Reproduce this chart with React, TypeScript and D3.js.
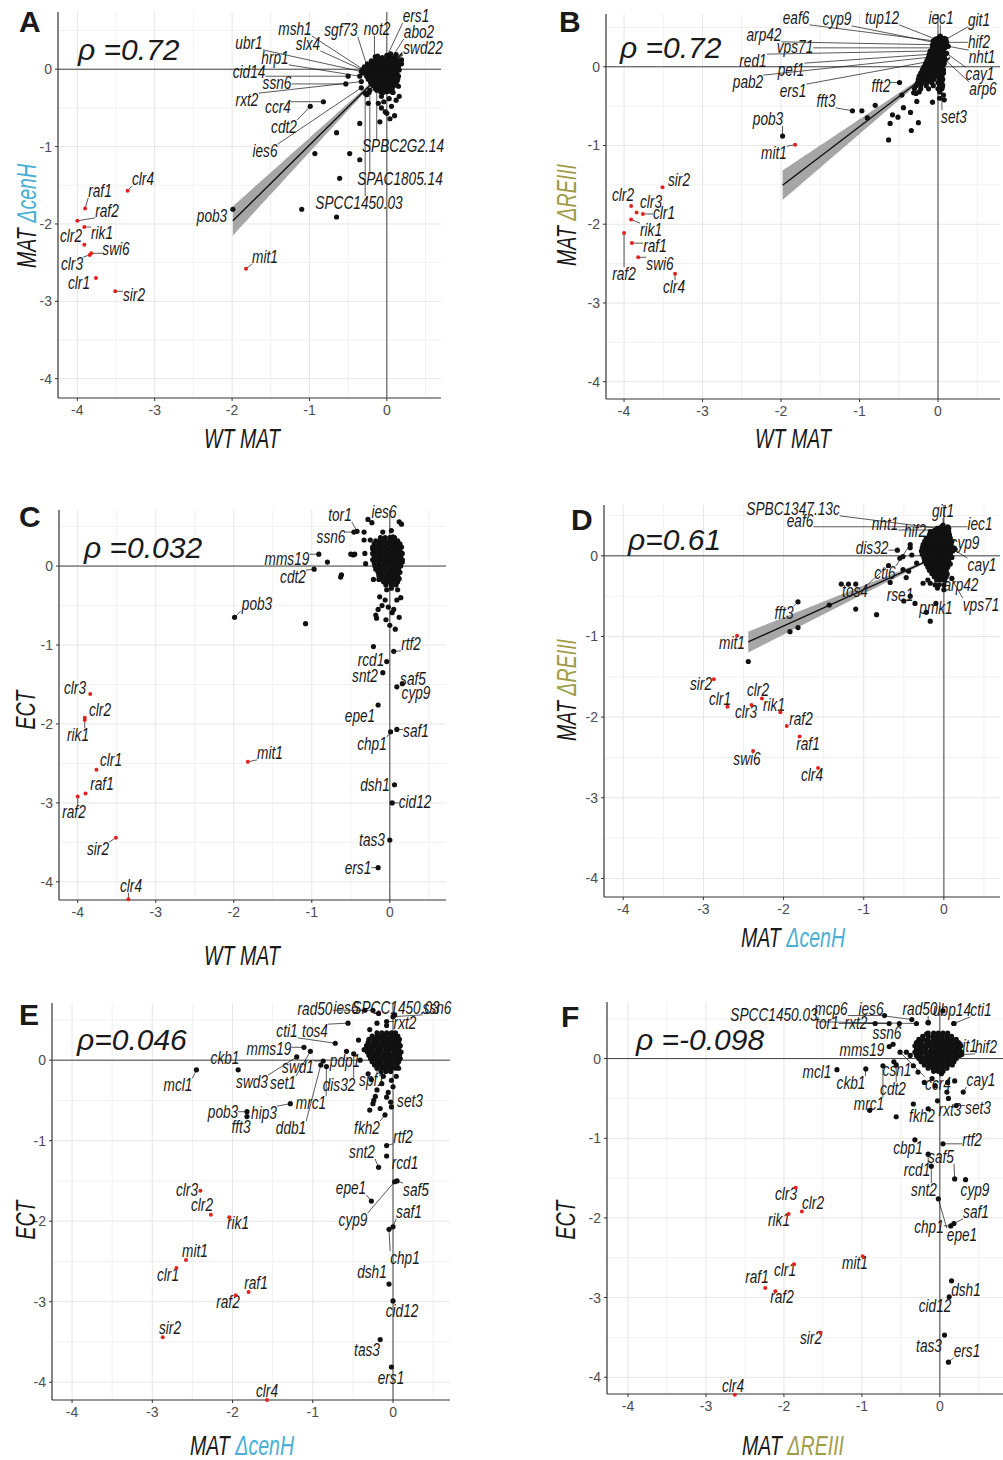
import React, { useEffect, useRef } from "react";
import * as d3 from "d3";

const FONT = "'Liberation Sans', Arial, Helvetica, sans-serif";
const BLUE = "#4aafd3";
const OLIVE = "#a19c48";
const RED = "#e3221f";
const INK = "#1a1a1a";

// ---------- shared heterochromatin genes (red) ----------
const redGenes = ["raf2", "clr2", "rik1", "raf1", "clr3", "swi6", "clr1", "sir2", "clr4", "mit1"];
const wtMAT = [-4.0, -3.91, -3.91, -3.9, -3.84, -3.82, -3.76, -3.51, -3.35, -1.82];
const matCenH = [-1.96, -2.27, -2.04, -1.8, -2.4, -2.38, -2.7, -2.87, -1.57, -2.58];
const matREIII = [-2.11, -1.77, -1.94, -2.24, -1.85, -2.42, -1.87, -1.53, -2.63, -0.99];
const ectVals = [-2.92, -1.92, -1.95, -2.88, -1.62, null, -2.58, -3.44, -4.22, -2.48];

// ---------- Panel A: WT MAT vs MAT ΔcenH ----------
const aGenes = [
  ["msh1", -0.31, 0.0], ["slx4", -0.27, -0.03], ["sgf73", -0.25, 0.02], ["not2", -0.16, 0.02],
  ["ers1", -0.03, 0.1], ["abo2", 0.02, 0.08], ["swd22", 0.06, 0.08], ["ubr1", -0.33, -0.03],
  ["hrp1", -0.35, -0.09], ["cid14", -0.5, -0.09], ["ssn6", -0.53, -0.19], ["rxt2", -0.33, -0.16],
  ["ccr4", -0.82, -0.42], ["cdt2", -0.99, -0.48], ["ies6", -0.33, -0.24], ["SPBC2G2.14", -0.13, -0.27],
  ["SPAC1805.14", -0.22, -0.27], ["SPCC1450.03", -0.28, -0.31], ["pob3", -1.99, -1.81],
];
const aOther = [
  [-1.1, -1.81], [-0.65, -1.91], [-0.61, -1.41], [-0.93, -1.09], [-0.65, -0.82], [-0.48, -1.09],
  [-0.35, -1.17], [-0.35, -0.7], [-0.09, -0.68], [-0.07, -0.5], [-0.11, -0.44], [0.0, -0.57],
  [-0.24, -0.44], [-0.26, -0.33], [-0.07, -0.35], [0.02, -0.27], [0.08, -0.2], [0.13, -0.16],
  [0.15, 0.08], [0.13, -0.05], [0.0, 0.18], [-0.12, 0.17], [-0.05, -0.3], [0.08, -0.3],
  [0.15, -0.22], [0.19, 0.12], [-0.23, -0.3], [0.03, -0.38], [-0.04, -0.42], [0.06, -0.48],
  [0.1, -0.6], [0.04, -0.64], [-0.02, -0.55], [0.12, -0.4], [0.16, -0.35], [-0.15, 0.16],
  [0.12, 0.19], [0.05, 0.2],
];
// dense core: rows of [y, x values]
const aCore = [
  [0.15, [-0.12, -0.06, 0.0, 0.05, 0.1]],
  [0.11, [-0.2, -0.15, -0.1, -0.04, 0.01, 0.07, 0.12, 0.16]],
  [0.07, [-0.25, -0.19, -0.13, -0.08, -0.02, 0.03, 0.09, 0.14, 0.19]],
  [0.03, [-0.29, -0.23, -0.18, -0.12, -0.06, -0.01, 0.05, 0.1, 0.15]],
  [-0.01, [-0.27, -0.22, -0.16, -0.1, -0.05, 0.01, 0.06, 0.11, 0.16]],
  [-0.05, [-0.3, -0.24, -0.19, -0.14, -0.08, -0.03, 0.02, 0.08, 0.12]],
  [-0.09, [-0.26, -0.21, -0.15, -0.1, -0.05, 0.01, 0.05, 0.1, 0.15]],
  [-0.13, [-0.24, -0.18, -0.13, -0.07, -0.02, 0.04, 0.09, 0.14]],
  [-0.17, [-0.21, -0.16, -0.1, -0.04, 0.02, 0.07, 0.11]],
  [-0.21, [-0.18, -0.12, -0.07, -0.01, 0.04, 0.09]],
  [-0.25, [-0.15, -0.09, -0.03, 0.03, 0.07]],
  [-0.29, [-0.08, 0.0, 0.06]],
];
const aLabelPos = {
  msh1: [295, 29], slx4: [308, 44], sgf73: [341, 30], not2: [377, 29], ers1: [416, 16], abo2: [419, 32],
  swd22: [423, 48], ubr1: [249, 43], hrp1: [275, 58], cid14: [249, 72], ssn6: [277, 83], rxt2: [247, 100],
  ccr4: [278, 107], cdt2: [284, 127], ies6: [265, 151], "SPBC2G2.14": [403, 146], "SPAC1805.14": [400, 179],
  "SPCC1450.03": [359, 203], pob3: [212, 216],
  clr4: [143, 179], raf1: [100, 191], raf2: [107, 211], rik1: [102, 233], clr2: [71, 236], swi6: [116, 249],
  clr3: [72, 264], clr1: [79, 283], sir2: [134, 295], mit1: [265, 257],
};

// ---------- Panel B: WT MAT vs MAT ΔREIII ----------
const bGenes = [
  ["eaf6", -0.06, 0.33], ["cyp9", -0.05, 0.31], ["tup12", -0.03, 0.35], ["iec1", 0.03, 0.39],
  ["git1", 0.07, 0.33], ["hif2", 0.11, 0.31], ["nht1", 0.13, 0.26], ["cay1", 0.11, 0.17],
  ["arp6", 0.09, 0.09], ["arp42", -0.07, 0.28], ["vps71", -0.06, 0.24], ["red1", -0.1, 0.2],
  ["pef1", -0.08, 0.16], ["pab2", -0.12, 0.12], ["ers1", -0.1, 0.07], ["fft3", -1.09, -0.56],
  ["fft2", -0.49, -0.2], ["pob3", -1.98, -0.88], ["set3", 0.05, -0.26],
];
const bOther = [
  [-0.97, -0.56], [-0.8, -0.49], [-0.9, -0.65], [-0.63, -0.93], [-0.61, -0.72], [-0.58, -0.61],
  [-0.51, -0.64], [-0.44, -0.52], [-0.35, -0.58], [-0.25, -0.71], [-0.34, -0.81], [-0.27, -0.44],
  [-0.07, -0.45], [-0.46, -0.36], [-0.31, -0.33], [0.08, -0.42], [0.02, -0.4], [0.07, -0.36],
  [-0.28, -0.34], [0.02, 0.38], [0.1, 0.35],
];
const bCore = [
  [0.36, [0.0, 0.04, 0.08]],
  [0.32, [-0.02, 0.02, 0.06, 0.1]],
  [0.28, [-0.05, -0.01, 0.03, 0.07, 0.11]],
  [0.24, [-0.07, -0.03, 0.01, 0.05, 0.09]],
  [0.2, [-0.09, -0.05, -0.01, 0.03, 0.07]],
  [0.16, [-0.11, -0.07, -0.03, 0.01, 0.05, 0.09]],
  [0.12, [-0.12, -0.08, -0.04, 0.0, 0.04, 0.08]],
  [0.08, [-0.14, -0.1, -0.06, -0.02, 0.02, 0.06]],
  [0.04, [-0.16, -0.12, -0.08, -0.04, 0.0, 0.04, 0.08]],
  [0.0, [-0.18, -0.14, -0.1, -0.06, -0.02, 0.02, 0.06]],
  [-0.04, [-0.2, -0.16, -0.12, -0.08, -0.04, 0.0, 0.04, 0.07]],
  [-0.08, [-0.22, -0.18, -0.14, -0.1, -0.06, -0.02, 0.03, 0.07]],
  [-0.12, [-0.24, -0.2, -0.16, -0.12, -0.08, -0.04, 0.0, 0.05]],
  [-0.16, [-0.25, -0.21, -0.17, -0.13, -0.09, -0.05, 0.02, 0.06]],
  [-0.2, [-0.26, -0.2, -0.14, -0.08, 0.0, 0.05]],
  [-0.24, [-0.28, -0.22, -0.15, -0.06, 0.02, 0.06]],
  [-0.28, [-0.3, -0.22, -0.12, 0.0, 0.05]],
  [-0.32, [-0.24, 0.02]],
];
const bLabelPos = {
  eaf6: [796, 18], cyp9: [837, 19], tup12: [882, 18], iec1: [941, 18], git1: [979, 20], hif2: [979, 42],
  nht1: [982, 57], cay1: [980, 74], arp6: [983, 89], arp42: [764, 35], vps71: [795, 47], red1: [753, 61],
  pef1: [791, 70], pab2: [748, 82], ers1: [793, 91], fft3: [826, 101], fft2: [881, 86], pob3: [768, 119],
  set3: [954, 117],
  sir2: [679, 180], clr2: [623, 195], clr3: [651, 202], clr1: [664, 213], rik1: [651, 230], raf1: [655, 246],
  raf2: [624, 274], swi6: [660, 264], clr4: [674, 287], mit1: [774, 153],
};

// ---------- Panel C: WT MAT vs ECT ----------
const cGenes = [
  ["tor1", -0.42, 0.44], ["ssn6", -0.46, 0.43], ["ies6", -0.28, 0.59], ["mms19", -0.91, 0.15],
  ["cdt2", -0.97, -0.04], ["pob3", -1.99, -0.65], ["rtf2", 0.05, -1.08], ["rcd1", -0.04, -1.21],
  ["snt2", -0.09, -1.35], ["saf5", 0.16, -1.49], ["cyp9", 0.09, -1.53], ["epe1", -0.15, -1.76],
  ["saf1", 0.09, -2.07], ["chp1", 0.01, -2.1], ["dsh1", 0.06, -2.77], ["cid12", 0.03, -3.0],
  ["tas3", 0.0, -3.47], ["ers1", -0.15, -3.82],
];
const cOther = [
  [-0.13, -0.39], [-0.06, -0.43], [-0.02, -0.52], [0.03, -0.59], [0.09, -0.43], [0.14, -0.4],
  [0.02, -0.28], [-0.04, -0.3], [-0.14, -0.17], [-0.21, -0.17], [-0.17, -0.66], [-0.18, -0.62],
  [-0.33, 0.33], [-0.25, 0.33], [-0.47, 0.14], [-0.32, 0.16], [-0.31, 0.03], [-0.09, 0.43],
  [0.02, 0.45], [0.04, 0.37], [-0.45, 0.15], [-0.5, 0.15], [-0.23, 0.55], [0.12, 0.56], [0.15, 0.53],
  [-0.8, 0.05], [-0.62, -0.11], [-0.63, -0.14], [-1.08, -0.73], [-0.21, -1.02], [-0.33, 0.43],
  [0.1, -0.3], [0.05, -0.55], [-0.1, -0.5], [0.12, -0.65], [0.0, -0.75], [-0.05, -0.68], [0.07, -0.8],
  [-0.15, -0.55], [0.16, 0.05], [-0.22, 0.22],
];
const cCore = [
  [0.36, [-0.12, -0.06, 0.0, 0.06]],
  [0.32, [-0.18, -0.12, -0.06, 0.0, 0.05, 0.1]],
  [0.28, [-0.2, -0.14, -0.09, -0.03, 0.03, 0.08, 0.13]],
  [0.24, [-0.22, -0.17, -0.12, -0.06, 0.0, 0.06, 0.11, 0.15]],
  [0.2, [-0.2, -0.14, -0.09, -0.03, 0.03, 0.08, 0.13]],
  [0.16, [-0.22, -0.17, -0.11, -0.06, 0.0, 0.05, 0.11, 0.16]],
  [0.12, [-0.2, -0.14, -0.08, -0.03, 0.03, 0.08, 0.14]],
  [0.08, [-0.22, -0.17, -0.11, -0.05, 0.0, 0.06, 0.12, 0.16]],
  [0.04, [-0.2, -0.14, -0.08, -0.02, 0.03, 0.09, 0.14]],
  [0.0, [-0.19, -0.13, -0.07, -0.02, 0.04, 0.09, 0.14]],
  [-0.04, [-0.18, -0.12, -0.06, 0.0, 0.06, 0.11]],
  [-0.08, [-0.15, -0.1, -0.04, 0.02, 0.08, 0.13]],
  [-0.12, [-0.14, -0.08, -0.02, 0.04, 0.1]],
  [-0.16, [-0.11, -0.05, 0.01, 0.07, 0.12]],
  [-0.2, [-0.08, -0.02, 0.04, 0.1]],
  [-0.24, [-0.05, 0.02, 0.08]],
];
const cLabelPos = {
  tor1: [340, 515], ssn6: [331, 537], ies6: [384, 512], mms19: [287, 559], cdt2: [293, 577], pob3: [257, 604],
  rtf2: [411, 644], rcd1: [371, 660], snt2: [365, 676], saf5: [413, 679], cyp9: [416, 693], epe1: [360, 716],
  saf1: [416, 731], chp1: [372, 744], dsh1: [375, 785], cid12: [415, 802], tas3: [372, 840], ers1: [358, 868],
  clr3: [75, 688], clr2: [100, 710], rik1: [78, 735], clr1: [111, 760], raf1: [102, 784], raf2: [74, 812],
  sir2: [98, 849], clr4: [131, 886], mit1: [270, 753],
};

// ---------- Panel D: MAT ΔcenH vs MAT ΔREIII ----------
const dGenes = [
  ["SPBC1347.13c", -0.07, 0.34], ["eaf6", -0.03, 0.36], ["nht1", -0.11, 0.32], ["hif2", -0.17, 0.3],
  ["git1", -0.01, 0.38], ["iec1", 0.05, 0.36], ["cyp9", 0.05, 0.2], ["cay1", 0.05, 0.12],
  ["dis32", -0.58, 0.07], ["cti6", -0.42, 0.14], ["arp42", -0.05, -0.26], ["vps71", 0.03, -0.17],
  ["pmk1", -0.1, -0.59], ["rse1", -0.42, -0.5], ["tos4", -0.69, -0.12], ["fft3", -1.82, -0.57],
];
const dOther = [
  [-2.44, -1.31], [-1.92, -0.94], [-1.82, -0.89], [-1.43, -0.61], [-1.1, -0.66], [-0.84, -0.73],
  [-1.28, -0.35], [-1.19, -0.35], [-1.1, -0.35], [-0.5, -0.56], [-0.36, -0.59], [-0.47, -0.27],
  [-0.67, -0.33], [-0.44, -0.19], [-0.22, -0.7], [-0.17, -0.81], [-0.55, -0.03], [-0.42, 0.1],
  [-0.51, -0.17], [-0.34, -0.09], [-0.4, 0.01], [-0.51, -0.01], [-0.26, -0.34], [-0.17, -0.34],
  [-0.11, -0.36], [-0.08, -0.4], [0.0, -0.42], [-0.2, -0.3], [0.1, -0.28], [0.14, 0.08],
];
const dCore = [
  [0.34, [-0.08, -0.03, 0.02, 0.06]],
  [0.3, [-0.14, -0.09, -0.04, 0.01, 0.06]],
  [0.26, [-0.18, -0.13, -0.08, -0.03, 0.02, 0.07]],
  [0.22, [-0.22, -0.17, -0.12, -0.07, -0.02, 0.03, 0.08]],
  [0.18, [-0.24, -0.19, -0.14, -0.09, -0.04, 0.01, 0.06, 0.1]],
  [0.14, [-0.26, -0.21, -0.16, -0.11, -0.06, -0.01, 0.04, 0.09]],
  [0.1, [-0.27, -0.22, -0.17, -0.12, -0.07, -0.02, 0.03, 0.08, 0.12]],
  [0.06, [-0.28, -0.23, -0.18, -0.13, -0.08, -0.03, 0.02, 0.07, 0.11]],
  [0.02, [-0.27, -0.22, -0.17, -0.12, -0.07, -0.02, 0.03, 0.08]],
  [-0.02, [-0.25, -0.2, -0.15, -0.1, -0.05, 0.0, 0.05, 0.1]],
  [-0.06, [-0.24, -0.19, -0.14, -0.09, -0.04, 0.01, 0.06]],
  [-0.1, [-0.22, -0.17, -0.12, -0.07, -0.02, 0.03, 0.08]],
  [-0.14, [-0.2, -0.15, -0.1, -0.05, 0.0, 0.05]],
  [-0.18, [-0.18, -0.13, -0.08, -0.03, 0.02]],
  [-0.22, [-0.15, -0.1, -0.05, 0.0, 0.04]],
  [-0.26, [-0.12, -0.07, -0.02, 0.03]],
  [-0.3, [-0.09, -0.04, 0.01]],
  [-0.36, [-0.06, 0.0]],
];
const dLabelPos = {
  "SPBC1347.13c": [793, 509], eaf6: [800, 521], nht1: [885, 524], hif2: [915, 531], git1: [943, 511],
  iec1: [980, 524], cyp9: [965, 543], dis32: [872, 548], cay1: [982, 565], cti6: [885, 573], arp42: [961, 585],
  tos4: [855, 591], rse1: [900, 595], vps71: [981, 605], pmk1: [936, 608], fft3: [784, 613],
  sir2: [701, 684], clr1: [720, 699], clr2: [758, 690], clr3: [746, 712], rik1: [774, 705], raf2: [801, 719],
  raf1: [808, 744], swi6: [747, 759], clr4: [812, 775], mit1: [732, 643],
};

// ---------- Panel E: MAT ΔcenH vs ECT ----------
const eGenes = [
  ["rad50", -0.35, 0.62], ["ies6", -0.25, 0.62], ["SPCC1450.03", -0.18, 0.58], ["ssn6", 0.0, 0.54],
  ["rxt2", -0.08, 0.48], ["tos4", -0.56, 0.46], ["cti1", -0.72, 0.21], ["mms19", -1.11, 0.16],
  ["ckb1", -1.93, -0.12], ["mcl1", -2.45, -0.12], ["swd3", -1.2, 0.04], ["set1", -1.03, 0.11],
  ["swd1", -0.87, -0.01], ["ddb1", -0.9, -0.06], ["mrc1", -0.83, -0.08], ["pdp1", -0.58, 0.11],
  ["dis32", -0.49, 0.08], ["spf1", -0.2, -0.05], ["set3", -0.02, -0.58], ["fkh2", -0.1, -0.68],
  ["hip3", -1.28, -0.54], ["pob3", -1.82, -0.64], ["fft3", -1.82, -0.7], ["rtf2", -0.08, -1.06],
  ["rcd1", -0.08, -1.19], ["snt2", -0.18, -1.33], ["saf5", 0.05, -1.5], ["cyp9", 0.02, -1.51],
  ["epe1", -0.27, -1.75], ["saf1", 0.0, -2.07], ["chp1", -0.05, -2.1], ["dsh1", -0.05, -2.78],
  ["cid12", 0.0, -2.99], ["tas3", -0.16, -3.47], ["ers1", -0.02, -3.81],
];
const eOther = [
  [-0.29, -0.62], [-0.25, -0.54], [-0.2, -0.37], [-0.08, -0.46], [-0.14, -0.29], [-0.02, -0.25],
  [0.0, -0.33], [-0.27, -0.24], [-0.31, -0.17], [-0.41, 0.0], [-0.43, 0.25], [-0.29, 0.38],
  [-0.2, 0.46], [-0.08, 0.43], [0.02, 0.56], [-0.12, -0.2], [-0.06, -0.4], [-0.22, -0.45],
  [-0.24, -0.5], [0.04, -0.2], [0.07, -0.1], [-0.16, -0.6], [-0.03, -0.52], [-0.36, 0.13],
];
const eCore = [
  [0.34, [-0.2, -0.14, -0.08, -0.02, 0.03]],
  [0.3, [-0.26, -0.2, -0.15, -0.1, -0.04, 0.01, 0.06]],
  [0.26, [-0.3, -0.24, -0.18, -0.13, -0.07, -0.02, 0.04, 0.08]],
  [0.22, [-0.31, -0.25, -0.2, -0.14, -0.09, -0.03, 0.02, 0.07]],
  [0.18, [-0.33, -0.27, -0.22, -0.16, -0.11, -0.05, 0.0, 0.05, 0.09]],
  [0.14, [-0.31, -0.26, -0.2, -0.15, -0.09, -0.04, 0.02, 0.07]],
  [0.1, [-0.32, -0.27, -0.21, -0.16, -0.1, -0.05, 0.01, 0.06, 0.1]],
  [0.06, [-0.3, -0.24, -0.19, -0.13, -0.08, -0.02, 0.03, 0.08]],
  [0.02, [-0.28, -0.23, -0.17, -0.12, -0.06, -0.01, 0.05, 0.09]],
  [-0.02, [-0.26, -0.2, -0.15, -0.09, -0.04, 0.02, 0.07]],
  [-0.06, [-0.23, -0.17, -0.12, -0.06, -0.01, 0.05]],
  [-0.1, [-0.2, -0.14, -0.09, -0.03, 0.03]],
  [-0.14, [-0.15, -0.09, -0.03]],
];
const eLabelPos = {
  rad50: [315, 1009], ies6: [346, 1008], "SPCC1450.03": [396, 1008], ssn6: [437, 1008], rxt2: [405, 1023],
  cti1: [287, 1031], tos4: [315, 1031], mms19: [269, 1049], ckb1: [225, 1058], mcl1: [178, 1085],
  swd3: [252, 1082], set1: [283, 1083], swd1: [298, 1067], ddb1: [291, 1128], mrc1: [311, 1103],
  pdp1: [345, 1061], dis32: [339, 1085], spf1: [372, 1080], set3: [410, 1101], fkh2: [367, 1128],
  hip3: [264, 1113], pob3: [223, 1112], fft3: [241, 1127], rtf2: [403, 1137], rcd1: [405, 1163],
  snt2: [362, 1152], saf5: [416, 1190], cyp9: [353, 1220], epe1: [351, 1188], saf1: [409, 1212],
  chp1: [405, 1258], dsh1: [372, 1272], cid12: [402, 1311], tas3: [367, 1350], ers1: [391, 1378],
  clr3: [187, 1190], clr2: [202, 1205], rik1: [238, 1223], mit1: [195, 1251], clr1: [168, 1275],
  raf1: [256, 1283], raf2: [228, 1302], sir2: [170, 1328], clr4: [267, 1391],
};

// ---------- Panel F: MAT ΔREIII vs ECT ----------
const fGenes = [
  ["SPCC1450.03", -0.3, 0.44], ["mcp6", -0.71, 0.54], ["ies6", -0.36, 0.49], ["rad50", -0.15, 0.45],
  ["ubp14", 0.04, 0.6], ["cti1", 0.18, 0.44], ["tor1", -0.83, 0.44], ["rxt2", -0.65, 0.44],
  ["ssn6", -0.52, 0.44], ["mms19", -0.65, 0.15], ["git1", 0.2, 0.1], ["hif2", 0.28, 0.05],
  ["mcl1", -1.32, -0.14], ["ckb1", -0.95, -0.13], ["csn1", -0.59, -0.04], ["cdt2", -0.56, -0.08],
  ["ccr4", -0.51, 0.08], ["cay1", 0.3, -0.42], ["mrc1", -0.73, -0.09], ["fkh2", -0.15, -0.63],
  ["rxt3", 0.11, -0.5], ["set3", 0.21, -0.59], ["cbp1", -0.32, -1.02], ["rtf2", 0.04, -1.07],
  ["saf5", 0.19, -1.51], ["rcd1", -0.15, -1.2], ["snt2", -0.11, -1.35], ["cyp9", 0.33, -1.52],
  ["epe1", -0.02, -1.76], ["saf1", 0.18, -2.07], ["chp1", 0.14, -2.1], ["dsh1", 0.15, -2.79],
  ["cid12", 0.12, -2.99], ["tas3", 0.06, -3.47], ["ers1", 0.11, -3.81],
];
const fOther = [
  [-0.9, -0.65], [-0.56, -0.73], [-0.34, -0.57], [-0.03, -0.53], [-0.06, -0.34], [0.09, -0.42],
  [0.19, -0.28], [0.02, -0.19], [-0.28, -0.17], [-0.34, -0.09], [-0.38, 0.04], [-0.43, 0.08],
  [-0.17, 0.31], [-0.6, 0.18], [0.18, 0.44], [-0.15, 0.45], [-0.1, -0.25], [0.1, -0.3], [-0.2, -0.3],
];
const fCore = [
  [0.32, [-0.15, -0.08, -0.02, 0.04, 0.1]],
  [0.28, [-0.22, -0.15, -0.09, -0.03, 0.03, 0.09, 0.15]],
  [0.24, [-0.27, -0.21, -0.15, -0.08, -0.02, 0.04, 0.1, 0.16, 0.21]],
  [0.2, [-0.3, -0.24, -0.17, -0.11, -0.05, 0.01, 0.07, 0.13, 0.19, 0.24]],
  [0.16, [-0.32, -0.26, -0.2, -0.14, -0.08, -0.02, 0.04, 0.1, 0.16, 0.22, 0.27]],
  [0.12, [-0.3, -0.24, -0.18, -0.11, -0.05, 0.01, 0.07, 0.13, 0.19, 0.25]],
  [0.08, [-0.32, -0.26, -0.2, -0.14, -0.08, -0.02, 0.04, 0.1, 0.16, 0.22, 0.28]],
  [0.04, [-0.3, -0.24, -0.17, -0.11, -0.05, 0.01, 0.07, 0.13, 0.19, 0.25]],
  [0.0, [-0.27, -0.21, -0.15, -0.09, -0.03, 0.03, 0.09, 0.15, 0.21]],
  [-0.04, [-0.24, -0.18, -0.12, -0.06, 0.0, 0.06, 0.12, 0.18]],
  [-0.08, [-0.2, -0.14, -0.08, -0.02, 0.04, 0.1, 0.16]],
  [-0.12, [-0.15, -0.09, -0.03, 0.03, 0.09]],
  [-0.16, [-0.08, -0.02, 0.04]],
];
const fLabelPos = {
  "SPCC1450.03": [774, 1015], mcp6: [831, 1009], ies6: [871, 1009], rad50: [920, 1009], ubp14: [952, 1010],
  cti1: [981, 1010], tor1: [827, 1023], rxt2: [856, 1023], ssn6: [887, 1033], mms19: [862, 1050],
  git1: [966, 1046], hif2: [986, 1047], mcl1: [817, 1072], ckb1: [851, 1083], csn1: [897, 1070],
  cdt2: [893, 1089], ccr4: [938, 1084], cay1: [981, 1080], mrc1: [869, 1104], fkh2: [922, 1116],
  rxt3: [950, 1110], set3: [978, 1108], cbp1: [908, 1148], rtf2: [972, 1140], saf5: [941, 1157],
  rcd1: [917, 1170], snt2: [924, 1190], cyp9: [975, 1190], saf1: [976, 1212], chp1: [929, 1227],
  epe1: [962, 1235], dsh1: [966, 1290], cid12: [935, 1306], tas3: [929, 1346], ers1: [967, 1351],
  clr3: [786, 1194], clr2: [813, 1203], rik1: [779, 1220], mit1: [855, 1263], clr1: [785, 1270],
  raf1: [757, 1277], raf2: [782, 1297], sir2: [811, 1338], clr4: [733, 1386],
};

// ---------- linear fits (intercept, slope, range, CI half-width params) ----------
const fitA = { x0: -1.99, x1: 0.2, b0: 0.01, b1: 0.99, a: 0.015, b: 0.097, xm: -0.05 };
const fitB = { x0: -1.98, x1: 0.15, b0: 0.0, b1: 0.76, a: 0.015, b: 0.097, xm: -0.05 };
const fitD = { x0: -2.44, x1: 0.14, b0: 0.03, b1: 0.45, a: 0.012, b: 0.054, xm: -0.05 };

const rhoText = ["ρ =0.72", "ρ =0.72", "ρ =0.032", "ρ=0.61", "ρ=0.046", "ρ =-0.098"];

const MAJOR = [-4, -3, -2, -1, 0];
const MINOR = [-3.5, -2.5, -1.5, -0.5, 0.5];

const T_WT = [["WT MAT", INK]];
const T_CENH = [["MAT ", INK], ["ΔcenH", BLUE]];
const T_REIII = [["MAT ", INK], ["ΔREIII", OLIVE]];
const T_ECT = [["ECT", INK]];

const panels = [
  { id: "A", left: 58, right: 441, top: 12, bottom: 398, xDom: [-4.25, 0.7], yDom: [-4.25, 0.74],
    xv: wtMAT, yv: matCenH, genes: aGenes, other: aOther, core: aCore, pos: aLabelPos, fit: fitA, rho: rhoText[0],
    rhoAt: [78, 60], letterAt: [19, 32], xT: T_WT, xTAt: [242, 448], yT: T_CENH, yTAt: [36, 216] },
  { id: "B", left: 606, right: 1000, top: 14, bottom: 399, xDom: [-4.23, 0.79], yDom: [-4.22, 0.67],
    xv: wtMAT, yv: matREIII, genes: bGenes, other: bOther, core: bCore, pos: bLabelPos, fit: fitB, rho: rhoText[1],
    rhoAt: [620, 58], letterAt: [559, 32], xT: T_WT, xTAt: [793, 448], yT: T_REIII, yTAt: [576, 215] },
  { id: "C", left: 59, right: 446, top: 510, bottom: 900, xDom: [-4.24, 0.72], yDom: [-4.23, 0.71],
    xv: wtMAT, yv: ectVals, genes: cGenes, other: cOther, core: cCore, pos: cLabelPos, fit: null, rho: rhoText[2],
    rhoAt: [84, 558], letterAt: [19, 527], xT: T_WT, xTAt: [242, 965], yT: T_ECT, yTAt: [35, 710] },
  { id: "D", left: 604, right: 1000, top: 505, bottom: 897, xDom: [-4.24, 0.7], yDom: [-4.23, 0.63],
    xv: matCenH, yv: matREIII, genes: dGenes, other: dOther, core: dCore, pos: dLabelPos, fit: fitD, rho: rhoText[3],
    rhoAt: [628, 550], letterAt: [571, 530], xT: T_CENH, xTAt: [793, 947], yT: T_REIII, yTAt: [576, 690] },
  { id: "E", left: 52, right: 450, top: 1003, bottom: 1400, xDom: [-4.25, 0.71], yDom: [-4.22, 0.71],
    xv: matCenH, yv: ectVals, genes: eGenes, other: eOther, core: eCore, pos: eLabelPos, fit: null, rho: rhoText[4],
    rhoAt: [77, 1050], letterAt: [19, 1025], xT: T_CENH, xTAt: [242, 1455], yT: T_ECT, yTAt: [35, 1220] },
  { id: "F", left: 607, right: 1003, top: 1002, bottom: 1394, xDom: [-4.27, 0.81], yDom: [-4.21, 0.71],
    xv: matREIII, yv: ectVals, genes: fGenes, other: fOther, core: fCore, pos: fLabelPos, fit: null, rho: rhoText[5],
    rhoAt: [636, 1050], letterAt: [561, 1027], xT: T_REIII, xTAt: [793, 1455], yT: T_ECT, yTAt: [575, 1220] },
];

const LABEL_SIZE = 18;
const LABEL_SX = 0.76;
const TITLE_SIZE = 28;
const TITLE_SX = 0.7;
const DOT_R = 2.6;
const TICK_SIZE = 14;

function addTitle(root: any, segs: any[], cx: number, cy: number, rotate: boolean) {
  const t = root.append("text")
    .attr("transform", rotate ? `translate(${cx},${cy}) rotate(-90) scale(${TITLE_SX},1)` : `translate(${cx},${cy}) scale(${TITLE_SX},1)`)
    .attr("text-anchor", "middle")
    .attr("font-family", FONT).attr("font-style", "italic").attr("font-size", TITLE_SIZE);
  segs.forEach((s) => t.append("tspan").attr("fill", s[1]).text(s[0]));
}

function addLabel(textLayer: any, segLayer: any, text: string, cx: number, cy: number, px: number, py: number) {
  const t = textLayer.append("text")
    .attr("transform", `translate(${cx},${cy}) scale(${LABEL_SX},1)`)
    .attr("y", LABEL_SIZE * 0.35)
    .attr("text-anchor", "middle")
    .attr("font-family", FONT).attr("font-style", "italic").attr("font-size", LABEL_SIZE)
    .attr("fill", INK).text(text);
  const bb = (t.node() as SVGTextElement).getBBox();
  const x0 = cx + bb.x * LABEL_SX, x1 = cx + (bb.x + bb.width) * LABEL_SX;
  const y0 = cy - LABEL_SIZE * 0.38, y1 = cy + LABEL_SIZE * 0.38;
  const nx = Math.max(x0, Math.min(px, x1));
  const ny = Math.max(y0, Math.min(py, y1));
  const dist = Math.hypot(nx - px, ny - py);
  if (dist > 6) {
    segLayer.append("line").attr("x1", px).attr("y1", py).attr("x2", nx).attr("y2", ny)
      .attr("stroke", "#111").attr("stroke-width", 0.7);
  }
}

function drawPanel(root: any, p: any) {
  const x = d3.scaleLinear().domain(p.xDom).range([p.left, p.right]);
  const y = d3.scaleLinear().domain(p.yDom).range([p.bottom, p.top]);
  const g = root.append("g");

  // grid
  const grid = g.append("g");
  const inX = (v: number) => v > p.xDom[0] && v < p.xDom[1];
  const inY = (v: number) => v > p.yDom[0] && v < p.yDom[1];
  grid.selectAll("line.mx").data(MINOR.filter(inX)).join("line").attr("class", "mx")
    .attr("x1", (d: number) => x(d)).attr("x2", (d: number) => x(d)).attr("y1", p.top).attr("y2", p.bottom)
    .attr("stroke", "#f1f1f1").attr("stroke-width", 1);
  grid.selectAll("line.my").data(MINOR.filter(inY)).join("line").attr("class", "my")
    .attr("y1", (d: number) => y(d)).attr("y2", (d: number) => y(d)).attr("x1", p.left).attr("x2", p.right)
    .attr("stroke", "#f1f1f1").attr("stroke-width", 1);
  grid.selectAll("line.Mx").data(MAJOR.filter(inX)).join("line").attr("class", "Mx")
    .attr("x1", (d: number) => x(d)).attr("x2", (d: number) => x(d)).attr("y1", p.top).attr("y2", p.bottom)
    .attr("stroke", "#e6e6e6").attr("stroke-width", 1);
  grid.selectAll("line.My").data(MAJOR.filter(inY)).join("line").attr("class", "My")
    .attr("y1", (d: number) => y(d)).attr("y2", (d: number) => y(d)).attr("x1", p.left).attr("x2", p.right)
    .attr("stroke", "#e6e6e6").attr("stroke-width", 1);

  // zero reference lines
  g.append("line").attr("x1", p.left).attr("x2", p.right).attr("y1", y(0)).attr("y2", y(0))
    .attr("stroke", "#444").attr("stroke-width", 1);
  g.append("line").attr("x1", x(0)).attr("x2", x(0)).attr("y1", p.top).attr("y2", p.bottom)
    .attr("stroke", "#444").attr("stroke-width", 1);

  // axes
  g.append("line").attr("x1", p.left).attr("x2", p.left).attr("y1", p.top).attr("y2", p.bottom)
    .attr("stroke", "#333").attr("stroke-width", 1.2);
  g.append("line").attr("x1", p.left).attr("x2", p.right).attr("y1", p.bottom).attr("y2", p.bottom)
    .attr("stroke", "#333").attr("stroke-width", 1.2);
  MAJOR.forEach((v) => {
    g.append("line").attr("x1", x(v)).attr("x2", x(v)).attr("y1", p.bottom).attr("y2", p.bottom + 3)
      .attr("stroke", "#333");
    g.append("text").attr("x", x(v)).attr("y", p.bottom + 17).attr("text-anchor", "middle")
      .attr("font-family", FONT).attr("font-size", TICK_SIZE).attr("fill", "#4d4d4d").text(String(v));
    g.append("line").attr("x1", p.left - 3).attr("x2", p.left).attr("y1", y(v)).attr("y2", y(v))
      .attr("stroke", "#333");
    g.append("text").attr("x", p.left - 6).attr("y", y(v) + 5).attr("text-anchor", "end")
      .attr("font-family", FONT).attr("font-size", TICK_SIZE).attr("fill", "#4d4d4d").text(String(v));
  });

  // regression with CI band
  if (p.fit) {
    const f = p.fit;
    const xs = d3.range(0, 61).map((i: number) => f.x0 + (f.x1 - f.x0) * i / 60);
    const hw = (v: number) => Math.sqrt(f.a * f.a + (f.b * (v - f.xm)) ** 2);
    const area = d3.area<number>().x((d) => x(d))
      .y0((d) => y(f.b0 + f.b1 * d - hw(d))).y1((d) => y(f.b0 + f.b1 * d + hw(d)));
    g.append("path").attr("d", area(xs)).attr("fill", "#a6a6a6");
    g.append("line").attr("x1", x(f.x0)).attr("y1", y(f.b0 + f.b1 * f.x0))
      .attr("x2", x(f.x1)).attr("y2", y(f.b0 + f.b1 * f.x1)).attr("stroke", "#111").attr("stroke-width", 1.4);
  }

  const segLayer = g.append("g");
  const textLayer = g.append("g");

  // unlabeled points (scattered + dense core)
  const corePts: number[][] = [];
  p.core.forEach((row: any[]) => row[1].forEach((xv: number) => corePts.push([xv, row[0]])));
  const allOther = p.other.concat(corePts);
  g.append("g").selectAll("circle").data(allOther).join("circle")
    .attr("cx", (d: number[]) => x(d[0])).attr("cy", (d: number[]) => y(d[1])).attr("r", DOT_R).attr("fill", "#111");

  // labeled black points
  g.append("g").selectAll("circle").data(p.genes).join("circle")
    .attr("cx", (d: any[]) => x(d[1])).attr("cy", (d: any[]) => y(d[2])).attr("r", DOT_R).attr("fill", "#111");
  p.genes.forEach((d: any[]) => {
    const lp = p.pos[d[0]];
    if (lp) addLabel(textLayer, segLayer, d[0], lp[0], lp[1], x(d[1]), y(d[2]));
  });

  // red heterochromatin genes
  const reds = redGenes.map((n, i) => ({ n, xv: p.xv[i], yv: p.yv[i] })).filter((r) => r.xv != null && r.yv != null);
  g.append("g").selectAll("circle").data(reds).join("circle")
    .attr("cx", (d: any) => x(d.xv)).attr("cy", (d: any) => y(d.yv)).attr("r", 2).attr("fill", RED);
  reds.forEach((r) => {
    const lp = p.pos[r.n];
    if (lp) addLabel(textLayer, segLayer, r.n, lp[0], lp[1], x(r.xv), y(r.yv));
  });

  // rho
  g.append("text").attr("x", p.rhoAt[0]).attr("y", p.rhoAt[1]).attr("font-family", FONT)
    .attr("font-style", "italic").attr("font-size", 30).attr("fill", INK).text(p.rho);
  // panel letter
  g.append("text").attr("x", p.letterAt[0]).attr("y", p.letterAt[1]).attr("font-family", FONT)
    .attr("font-weight", "bold").attr("font-size", 30).attr("fill", INK).text(p.id);
  // titles
  addTitle(g, p.xT, p.xTAt[0], p.xTAt[1], false);
  addTitle(g, p.yT, p.yTAt[0], p.yTAt[1], true);
}

export default function App() {
  const ref = useRef<SVGSVGElement>(null);
  useEffect(() => {
    const root = d3.select(ref.current);
    root.selectAll("*").remove();
    root.append("rect").attr("width", 1003).attr("height", 1460).attr("fill", "#fff");
    panels.forEach((p) => drawPanel(root, p));
  }, []);
  return (
    <svg ref={ref} width={1003} height={1460}
      style={{ position: "absolute", left: 0, top: 0, display: "block" }} />
  );
}
